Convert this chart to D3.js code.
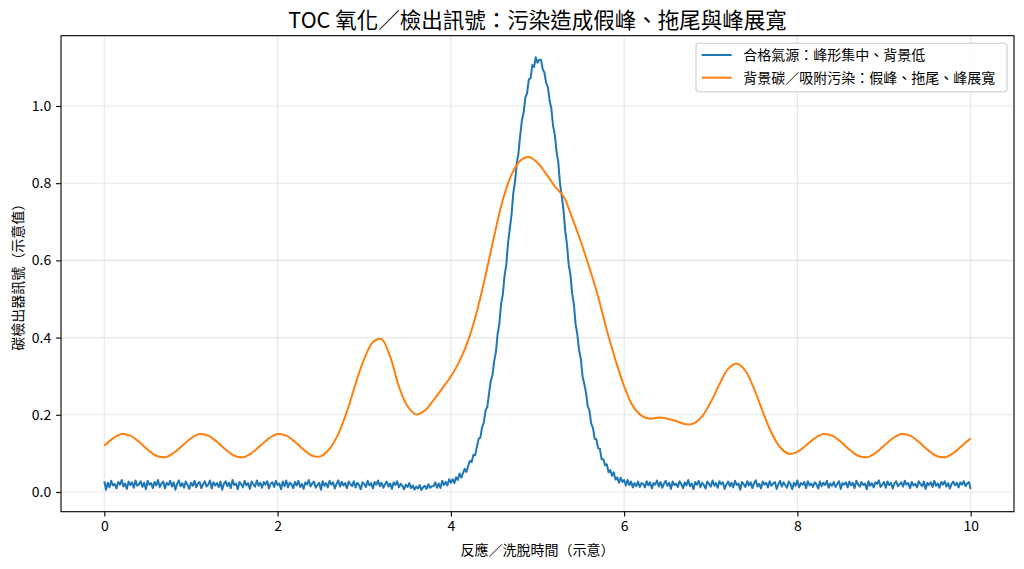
<!DOCTYPE html>
<html><head><meta charset="utf-8">
<script src="https://cdn.jsdelivr.net/npm/d3@7"></script>
<style>
body{margin:0;background:#fff}
svg{display:block}
text{font-family:"Noto Sans CJK TC","Noto Sans CJK SC","Noto Sans",sans-serif}
</style>
</head><body>
<svg id="chart" width="1024" height="569"></svg>
<script>
const chartTitle = "TOC 氧化／檢出訊號：污染造成假峰、拖尾與峰展寬";
const xLabel = "反應／洗脫時間（示意）";
const yLabel = "碳檢出器訊號（示意值）";
const seriesNames = ["合格氣源：峰形集中、背景低", "背景碳／吸附污染：假峰、拖尾、峰展寬"];
const seriesColors = ["#1f77b4", "#ff7f0e"];
const xTicks = [0, 2, 4, 6, 8, 10];
const yTicks = [0.0, 0.2, 0.4, 0.6, 0.8, 1.0];

// clean gas signal, sampled every 0.02 from t = 0 to 10
const cleanStart = 0, cleanStep = 0.02;
const cleanSignal = [
.028,.006,.024,.012,.029,.017,.021,.009,.026,.019,
.031,.014,.022,.008,.027,.018,.025,.011,.030,.016,
.020,.028,.013,.024,.007,.029,.019,.023,.010,.026,
.017,.031,.012,.022,.027,.009,.024,.018,.029,.014,
.025,.006,.021,.030,.015,.023,.011,.027,.019,.008,
.024,.016,.029,.012,.022,.026,.010,.020,.028,.014,
.019,.030,.009,.025,.017,.023,.013,.027,.006,.021,
.028,.015,.024,.010,.031,.018,.022,.007,.026,.020,
.012,.029,.017,.023,.008,.027,.020,.014,.030,.016,
.024,.011,.026,.019,.028,.009,.022,.025,.013,.029,
.018,.022,.007,.027,.015,.030,.012,.024,.020,.010,
.026,.017,.029,.013,.021,.008,.025,.019,.031,.014,
.022,.027,.011,.018,.024,.006,.028,.016,.023,.012,
.029,.019,.025,.009,.021,.030,.014,.026,.017,.023,
.010,.027,.020,.015,.028,.012,.024,.018,.007,.025,
.021,.013,.029,.017,.023,.009,.026,.019,.030,.015,
.024,.011,.020,.027,.014,.022,.008,.025,.018,.028,
.012,.021,.016,.007,.019,.013,.023,.010,.017,.006,
.014,.009,.018,.005,.012,.016,.008,.020,.011,.015,
.015,.025,.011,.022,.010,.029,.018,.026,.017,.033,
.024,.033,.023,.038,.031,.048,.037,.049,.060,.052,
.068,.081,.078,.096,.095,.117,.137,.141,.167,.180,
.211,.220,.254,.287,.303,.339,.363,.410,.437,.488,
.512,.561,.589,.645,.682,.717,.773,.803,.850,.877,
.924,.963,.983,1.022,1.033,1.069,1.072,1.106,1.101,1.126,
1.112,1.120,1.120,1.096,1.086,1.060,1.049,1.014,.993,.948,
.925,.881,.854,.799,.766,.730,.676,.642,.589,.563,
.515,.486,.434,.408,.367,.346,.300,.280,.257,.222,
.211,.177,.166,.138,.136,.113,.112,.085,.085,.069,
.072,.051,.057,.042,.051,.032,.038,.024,.037,.026,
.031,.017,.031,.018,.027,.012,.023,.015,.027,.013,
.023,
.021,.012,.028,.017,.025,.009,.023,.019,.030,.014,
.026,.011,.022,.029,.016,.024,.008,.027,.018,.021,
.013,.028,.020,.010,.025,.017,.031,.015,.022,.007,
.026,.019,.029,.012,.024,.018,.009,.027,.021,.014,
.030,.016,.023,.011,.028,.020,.025,.008,.019,.027,
.015,.024,.012,.029,.018,.022,.006,.026,.020,.013,
.028,.017,.025,.010,.023,.030,.014,.021,.009,.027,
.019,.024,.012,.028,.016,.022,.026,.008,.020,.029,
.014,.025,.018,.011,.027,.021,.007,.024,.016,.030,
.012,.023,.019,.026,.010,.028,.017,.022,.013,.025,
.020,.009,.027,.015,.024,.018,.029,.011,.022,.016,
.026,.013,.021,.028,.008,.023,.019,.025,.012,.027,
.017,.024,.010,.029,.020,.014,.026,.018,.022,.007,
.028,.016,.023,.012,.025,.021,.030,.013,.019,.026,
.011,.027,.018,.024,.009,.022,.028,.015,.020,.025,
.014,.029,.019,.023,.010,.026,.017,.021,.012,.028,
.020,.015,.027,.008,.024,.018,.025,.013,.029,.016,
.022,.011,.026,.019,.028,.014,.023,.009,.021,.027,
.017,.024,.012,.025,.019,.028,.015,.022,.026,.008
];

// contaminated signal, sampled every 0.1 from t = 0 to 10
const contamStart = 0, contamStep = 0.1;
const contamSignal = [
.120,.139,.150,.146,.130,.110,.094,.090,.101,
.120,.139,.150,.146,.130,.110,.094,.090,.101,
.120,.139,.150,.146,.130,.110,.094,
.093,.112,.150,.208,.280,.345,.388,.396,.350,.274,
.222,.201,.211,.238,.268,.299,.339,.393,.467,.561,
.663,.757,.822,.858,.868,.853,.824,.792,.766,.710,
.649,.580,.506,.419,.342,.274,.223,.198,.190,.193,
.190,.184,.176,.177,.196,.233,.279,.319,.332,.314,
.267,.208,.154,.116,.099,.104,.121,
.139,.150,.146,.130,.110,.094,.090,.101,.120,
.139,.150,.146,.130,.110,.094,.090,.101,.120,.139
];

const clean = cleanSignal.map((v, i) => ({t: cleanStart + i * cleanStep, v}));
const contam = contamSignal.map((v, i) => ({t: contamStart + i * contamStep, v}));

const L = 61, R = 1014, T = 35.7, B = 511.7;
const svg = d3.select("#chart");

const allT = clean.concat(contam).map(d => d.t);
const allV = clean.concat(contam).map(d => d.v);
const [t0, t1] = d3.extent(allT);
const [v0, v1] = d3.extent(allV);
const tm = (t1 - t0) * 0.05, vm = (v1 - v0) * 0.05;
const x = d3.scaleLinear().domain([t0 - tm, t1 + tm]).range([L, R]);
const y = d3.scaleLinear().domain([v0 - vm, v1 + vm]).range([B, T]);

// grid
const grid = svg.append("g").attr("stroke", "#b0b0b0").attr("stroke-opacity", 0.3).attr("stroke-width", 1.1);
grid.selectAll("line.gx").data(xTicks).join("line")
  .attr("x1", d => x(d)).attr("x2", d => x(d)).attr("y1", T).attr("y2", B);
grid.selectAll("line.gy").data(yTicks).join("line")
  .attr("y1", d => y(d)).attr("y2", d => y(d)).attr("x1", L).attr("x2", R);

// lines
const lineClean = d3.line().x(d => x(d.t)).y(d => y(d.v));
const lineContam = d3.line().x(d => x(d.t)).y(d => y(d.v)).curve(d3.curveCatmullRom.alpha(0.5));
svg.append("path").datum(clean).attr("d", lineClean)
  .attr("fill", "none").attr("stroke", seriesColors[0]).attr("stroke-width", 2).attr("stroke-linejoin", "round");
svg.append("path").datum(contam).attr("d", lineContam)
  .attr("fill", "none").attr("stroke", seriesColors[1]).attr("stroke-width", 2).attr("stroke-linejoin", "round");

// axes
const xAxis = d3.axisBottom(x).tickValues(xTicks).tickFormat(d3.format("d")).tickSize(4.9).tickPadding(4.9);
const yAxis = d3.axisLeft(y).tickValues(yTicks).tickFormat(d3.format(".1f")).tickSize(4.9).tickPadding(4.9);
const gx = svg.append("g").attr("transform", `translate(0,${B})`).call(xAxis);
const gy = svg.append("g").attr("transform", `translate(${L},0)`).call(yAxis);
[gx, gy].forEach(g => {
  g.select(".domain").remove();
  g.selectAll(".tick line").attr("stroke", "#000").attr("stroke-width", 1.1);
  g.selectAll(".tick text").attr("fill", "#000").style("font-size", "14px")
    .style("font-family", '"Noto Sans CJK TC","Noto Sans CJK SC",sans-serif');
});

// frame
svg.append("rect").attr("x", L).attr("y", T).attr("width", R - L).attr("height", B - T)
  .attr("fill", "none").attr("stroke", "#000").attr("stroke-width", 1.1);

// title and labels
svg.append("text").attr("x", (L + R) / 2).attr("y", 28).attr("text-anchor", "middle")
  .style("font-size", "21.5px").attr("fill", "#000").text(chartTitle);
svg.append("text").attr("x", (L + R) / 2).attr("y", 555).attr("text-anchor", "middle")
  .style("font-size", "14px").attr("fill", "#000").text(xLabel);
svg.append("text").attr("transform", `translate(23,${(T + B) / 2}) rotate(-90)`).attr("text-anchor", "middle")
  .style("font-size", "14px").attr("fill", "#000").text(yLabel);

// legend
const lg = svg.append("g");
lg.append("rect").attr("x", 696).attr("y", 43.3).attr("width", 311).attr("height", 48.4).attr("rx", 3)
  .attr("fill", "#fff").attr("fill-opacity", 0.8).attr("stroke", "#cccccc").attr("stroke-width", 1.1);
seriesNames.forEach((name, i) => {
  const ly = 55 + i * 22.7;
  lg.append("line").attr("x1", 701.7).attr("x2", 731.7).attr("y1", ly).attr("y2", ly)
    .attr("stroke", seriesColors[i]).attr("stroke-width", 2);
  lg.append("text").attr("x", 743.3).attr("y", ly).attr("dy", "0.35em")
    .style("font-size", "14px").attr("fill", "#000").text(name);
});
</script>
</body></html>
